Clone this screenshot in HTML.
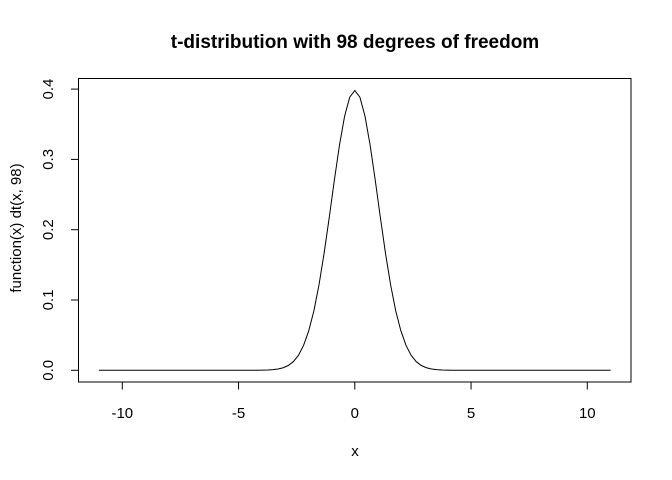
<!DOCTYPE html>
<html><head><meta charset="utf-8"><style>body{margin:0;background:#fff}svg{display:block;font-family:"Liberation Sans",Arial,sans-serif}</style></head>
<body>
<svg width="672" height="480" viewBox="0 0 672 480" xmlns="http://www.w3.org/2000/svg">
<rect width="672" height="480" fill="#fff"/>
<text x="355" y="48" text-anchor="middle" font-size="19" font-weight="bold">t-distribution with 98 degrees of freedom</text>
<rect x="78.5" y="78.5" width="552.5" height="303.5" fill="none" stroke="#000" stroke-width="1"/>
<g id="xaxis"></g>
<g id="yaxis"></g>
<text x="355" y="456" text-anchor="middle" font-size="15">x</text>
<text transform="translate(21,228) rotate(-90)" text-anchor="middle" font-size="15">function(x) dt(x, 98)</text>
<polyline id="curve" fill="none" stroke="#000" stroke-width="1"/>
</svg>
<script>
const xTicks=[-10,-5,0,5,10];
const yTicks=[0,0.1,0.2,0.3,0.4];
const yTickLabels=["0.0","0.1","0.2","0.3","0.4"];
const xStart=-11, xStep=0.22;
const zeros=new Array(31).fill(0);
const rightHalf=[0.3884,0.3612,0.3200,0.2702,0.2173,0.1665,0.1216,0.0846,0.0563,0.0357,0.0215,0.0124,0.0068,0.0036,0.0019,0.0009,0.0004,0.0002,0.0001];
const peak=[0.3979];
const yValues=zeros.concat(rightHalf.slice().reverse(),peak,rightHalf,zeros);
const sx=v=>354.8+v*23.25;
const sy=v=>370.3-v*703;
const NS="http://www.w3.org/2000/svg";
const xa=document.getElementById('xaxis'), ya=document.getElementById('yaxis');
function mk(tag,attrs,parent){const e=document.createElementNS(NS,tag);for(const k in attrs)e.setAttribute(k,attrs[k]);parent.appendChild(e);return e;}
xTicks.forEach(t=>{
  const l=mk('line',{x1:sx(t),x2:sx(t),y1:382,y2:389.5,stroke:'#000'},xa);
  
  
  const tx=mk('text',{x:sx(t),y:418,'text-anchor':'middle','font-size':15},xa);
  
  
  tx.textContent=String(t);
});
yTicks.forEach((t,i)=>{
  const l=mk('line',{x1:71,x2:78.5,y1:sy(t),y2:sy(t),stroke:'#000'},ya);
  
  
  const tx=mk('text',{transform:`translate(53,${sy(t)}) rotate(-90)`,'text-anchor':'middle','font-size':15},ya);
  
  
  tx.textContent=yTickLabels[i];
});
document.getElementById('curve').setAttribute('points',yValues.map((v,i)=>sx(xStart+i*xStep).toFixed(2)+','+sy(v).toFixed(2)).join(' '));
</script>
</body></html>
